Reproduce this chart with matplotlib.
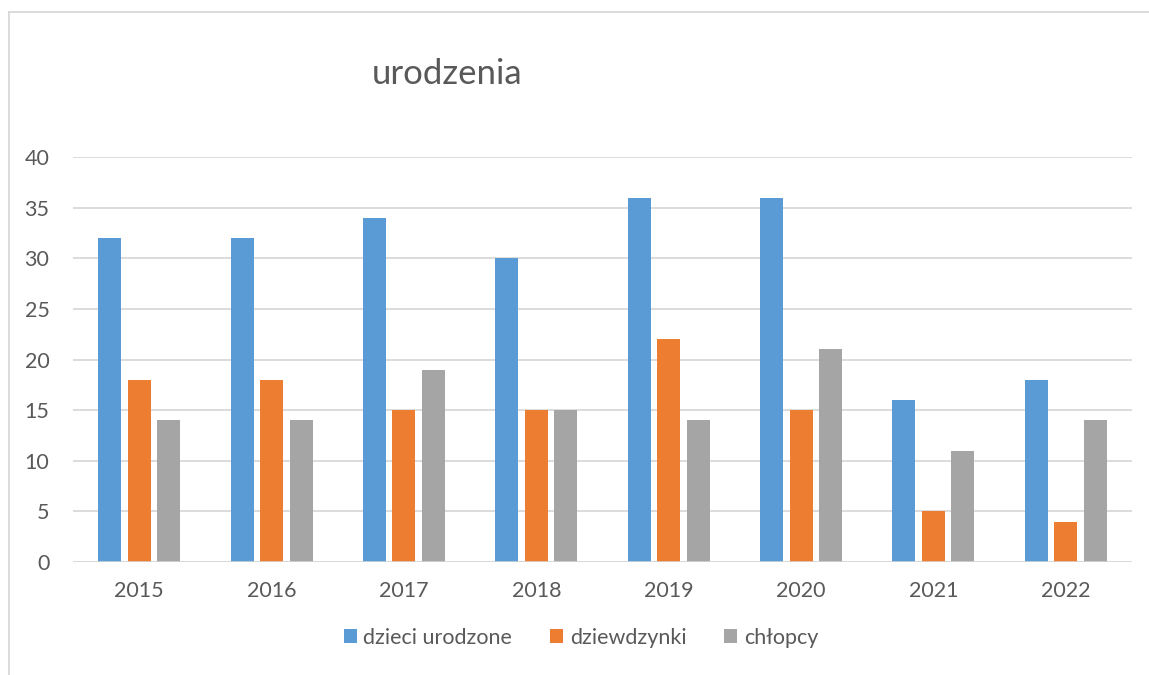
import numpy as np
import matplotlib.pyplot as plt
from matplotlib.lines import Line2D

## Data
years = ['2015', '2016', '2017', '2018', '2019', '2020', '2021', '2022']
dzieci = [32, 32, 34, 30, 36, 36, 16, 18]        # dzieci urodzone
dziewczynki = [18, 18, 15, 15, 22, 15, 5, 4]     # dziewdzynki
chlopcy = [14, 14, 19, 15, 14, 21, 11, 14]       # chłopcy

series = [(dzieci, 'dzieci urodzone', '#5B9BD5'),
          (dziewczynki, 'dziewdzynki', '#ED7D31'),
          (chlopcy, 'chłopcy', '#A5A5A5')]

plt.rcParams['font.family'] = ['Lato', 'DejaVu Sans']
txt = '#595959'
grid = '#D9D9D9'

W, H = 1149, 675
fig = plt.figure(figsize=(W / 100, H / 100), dpi=100)
ax = fig.add_axes([73 / W, (H - 562) / H, (1132 - 73) / W, (562 - 157) / H])

x = np.arange(len(years))
bw = 0.174       # bar width
step = 0.223     # distance between bars in a group
for k, (vals, lab, col) in enumerate(series):
    ax.bar(x + (k - 1) * step, vals, bw, color=col, label=lab, zorder=3)

ax.set_xlim(-0.5, len(years) - 0.5)
ax.set_ylim(0, 40)
ax.set_yticks(range(0, 41, 5))
ax.set_xticks(x)
ax.set_xticklabels(years)
ax.grid(axis='y', color=grid, lw=1.3, zorder=0)
ax.axhline(0, color=grid, lw=1.8, zorder=4)
for s in ax.spines.values():
    s.set_visible(False)
ax.tick_params(axis='both', length=0, labelsize=15.5, colors=txt)
ax.tick_params(axis='y', pad=17)
ax.tick_params(axis='x', pad=14)

# Title
fig.text(447 / W, 1 - 84 / H, 'urodzenia', ha='center', va='baseline',
         fontsize=25, color=txt)

# Legend
fig.legend(loc='center', bbox_to_anchor=(581 / W, 1 - 638 / H), ncol=3,
           frameon=False, fontsize=15.5, labelcolor=txt, handlelength=0.62,
           handleheight=0.62, handletextpad=0.3, columnspacing=1.75)

# Chart frame
fig.add_artist(Line2D([9 / W, 9 / W], [0, 1 - 12 / H], color=grid, lw=1.3,
                      transform=fig.transFigure))
fig.add_artist(Line2D([9 / W, 1], [1 - 12 / H, 1 - 12 / H], color=grid, lw=1.3,
                      transform=fig.transFigure))

fig.savefig('out.png', dpi=100, facecolor='white')
